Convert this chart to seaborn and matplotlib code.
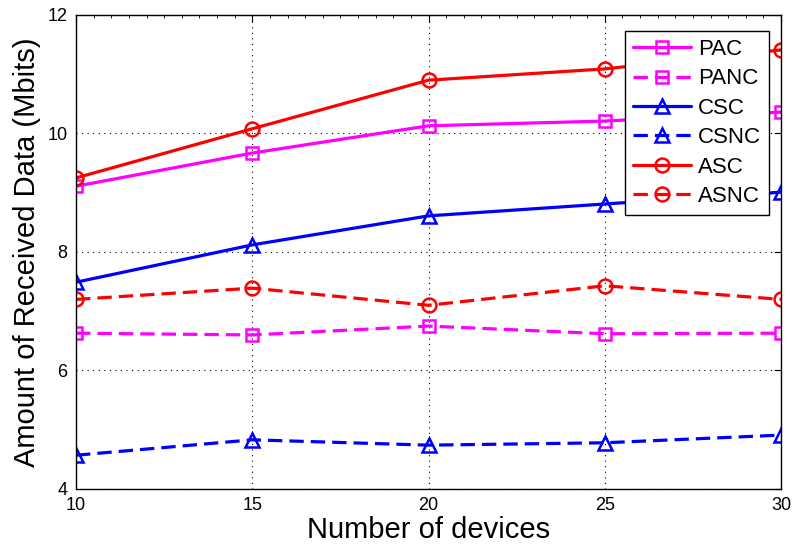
import numpy as np
import pandas as pd
import matplotlib
matplotlib.use('Agg')
import matplotlib.pyplot as plt
from matplotlib.ticker import MultipleLocator
import seaborn as sns

# Données
devices = [10, 15, 20, 25, 30]
pac = [9.11, 9.67, 10.13, 10.21, 10.36]
panc = [6.63, 6.60, 6.75, 6.62, 6.63]
csc = [7.49, 8.12, 8.61, 8.81, 9.01]
csnc = [4.57, 4.83, 4.74, 4.78, 4.91]
asc = [9.25, 10.08, 10.90, 11.09, 11.41]
asnc = [7.20, 7.39, 7.10, 7.43, 7.20]

sns.set_style('white')
plt.rcParams['font.family'] = ['Liberation Sans', 'DejaVu Sans']
plt.rcParams['text.color'] = 'black'
plt.rcParams['axes.labelcolor'] = 'black'
plt.rcParams['xtick.color'] = 'black'
plt.rcParams['ytick.color'] = 'black'

series = [
    ("PAC", pac, 'magenta', 's', '-'),
    ("PANC", panc, 'magenta', 's', '--'),
    ("CSC", csc, 'blue', '^', '-'),
    ("CSNC", csnc, 'blue', '^', '--'),
    ("ASC", asc, 'red', 'o', '-'),
    ("ASNC", asnc, 'red', 'o', '--'),
]

fig = plt.figure(figsize=(7.97, 5.49), dpi=100)
ax = fig.add_axes([0.0954, 0.1093, 0.8846, 0.8634])

for name, vals, color, marker, ls in series:
    df = pd.DataFrame({'x': devices, 'y': vals})
    sns.lineplot(data=df, x='x', y='y', ax=ax, color=color, marker=marker,
                 linewidth=2.3, markersize=10 if marker != 's' else 8.5,
                 markerfacecolor='none', markeredgecolor=color,
                 markeredgewidth=1.8, label=name)
    line = ax.lines[-1]
    if ls == '--':
        line.set_dashes((4.5, 2.2))

ax.set_xlim(10, 30)
ax.set_ylim(4, 12)
ax.set_xticks([10, 15, 20, 25, 30])
ax.set_yticks([4, 6, 8, 10, 12])
ax.xaxis.set_minor_locator(MultipleLocator(0.5))
ax.tick_params(which='both', direction='in', top=True, right=True, labelsize=13, pad=6)
ax.tick_params(which='major', length=5)
ax.tick_params(which='minor', length=2.5)
ax.tick_params(axis='y', which='minor', left=False, right=False)
ax.grid(True, which='major', linestyle=(0, (1, 4)), color='black', linewidth=0.8)
for s in ax.spines.values():
    s.set_color('black')
    s.set_linewidth(1.0)

ax.set_xlabel('Number of devices', fontsize=21, labelpad=1)
ax.set_ylabel('Amount of Received Data (Mbits)', fontsize=21, labelpad=5)

leg = ax.legend(loc='upper right', bbox_to_anchor=(0.983, 0.966), fontsize=16,
                frameon=True, fancybox=False, edgecolor='black', framealpha=1,
                handlelength=2.6, labelspacing=0.38, borderpad=0.35, handletextpad=0.35,
                borderaxespad=0)
leg.get_frame().set_linewidth(1.0)

fig.savefig('out.png', dpi=100)
